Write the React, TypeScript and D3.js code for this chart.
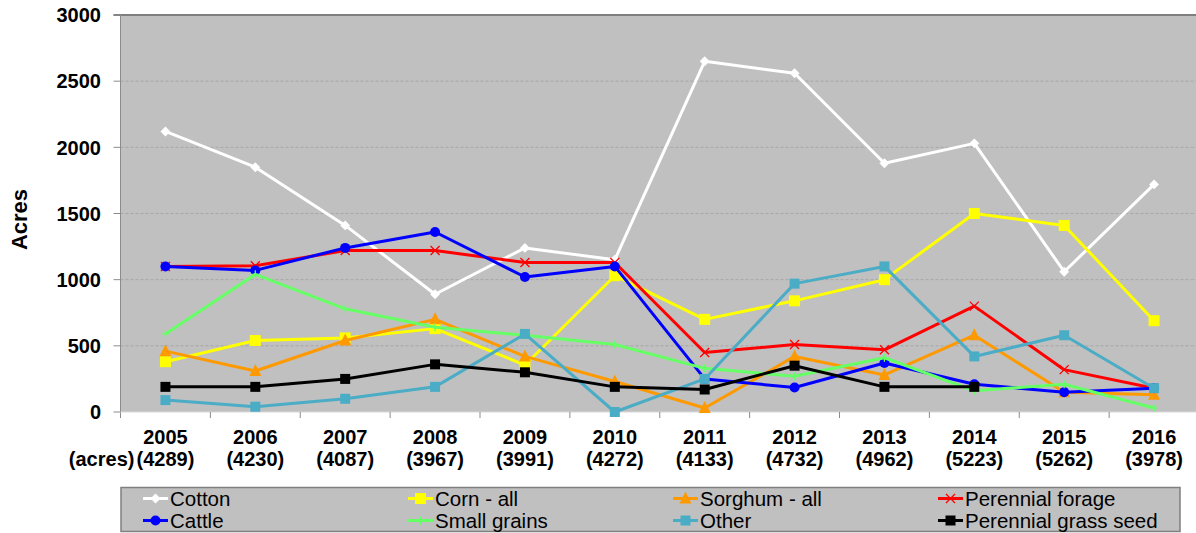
import React from "react";
import * as d3 from "d3";

// Years with total acreage shown under each year
const years = ["2005", "2006", "2007", "2008", "2009", "2010", "2011", "2012", "2013", "2014", "2015", "2016"];
const totals = ["4289", "4230", "4087", "3967", "3991", "4272", "4133", "4732", "4962", "5223", "5262", "3978"];
const yTicks = [0, 500, 1000, 1500, 2000, 2500, 3000];

// Acres per crop / use
const cotton = [2120, 1850, 1410, 890, 1240, 1150, 2650, 2560, 1880, 2030, 1060, 1720];
const corn = [380, 540, 560, 630, 355, 1030, 700, 840, 1000, 1500, 1410, 690];
const sorghum = [460, 310, 540, 700, 420, 230, 30, 420, 280, 580, 150, 130];
const perennialForage = [1100, 1105, 1220, 1220, 1130, 1130, 450, 510, 470, 800, 320, 180];
const cattle = [1100, 1070, 1240, 1360, 1020, 1100, 250, 185, 370, 210, 150, 180];
const smallGrains = [590, 1040, 780, 640, 580, 510, 330, 270, 410, 160, 210, 30];
const other = [90, 40, 100, 190, 590, 0, 250, 970, 1100, 420, 580, 180];
const grassSeed: (number | null)[] = [190, 190, 250, 360, 300, 190, 170, 350, 190, 190, null, null];

type Marker = "diamond" | "square" | "triangle" | "times" | "circle" | "plus";
interface Series {
  name: string;
  values: (number | null)[];
  color: string;
  marker: Marker;
  size: number;
}

const series: Series[] = [
  { name: "Cotton", values: cotton, color: "#ffffff", marker: "diamond", size: 7 },
  { name: "Corn - all", values: corn, color: "#ffff00", marker: "square", size: 11 },
  { name: "Sorghum - all", values: sorghum, color: "#ff9900", marker: "triangle", size: 12 },
  { name: "Perennial forage", values: perennialForage, color: "#ff0000", marker: "times", size: 9 },
  { name: "Cattle", values: cattle, color: "#0000ff", marker: "circle", size: 10 },
  { name: "Small grains", values: smallGrains, color: "#66ff66", marker: "plus", size: 8 },
  { name: "Other", values: other, color: "#4bacc6", marker: "square", size: 10 },
  { name: "Perennial grass seed", values: grassSeed, color: "#000000", marker: "square", size: 10 },
];

const W = 1196;
const H = 533;
const plot = { left: 120.5, right: 1199, top: 15, bottom: 412 };
const FONT = "'Liberation Sans', Arial, sans-serif";

function markerEl(s: Series, x: number, y: number, key: string) {
  const z = s.size;
  const h = z / 2;
  switch (s.marker) {
    case "diamond":
      return (
        <rect key={key} x={-h} y={-h} width={z} height={z} fill={s.color}
          transform={`translate(${x},${y}) rotate(45)`} />
      );
    case "square":
      return <rect key={key} x={x - h} y={y - h} width={z} height={z} fill={s.color} />;
    case "circle":
      return <circle key={key} cx={x} cy={y} r={h} fill={s.color} />;
    case "triangle": {
      const p = d3.path();
      p.moveTo(x, y - h - 1);
      p.lineTo(x + h, y + h - 1);
      p.lineTo(x - h, y + h - 1);
      p.closePath();
      return <path key={key} d={p.toString()} fill={s.color} />;
    }
    case "times":
      return (
        <path key={key} d={`M${x - h},${y - h}L${x + h},${y + h}M${x - h},${y + h}L${x + h},${y - h}`}
          stroke={s.color} strokeWidth={1.3} fill="none" />
      );
    case "plus":
      return (
        <path key={key} d={`M${x - h},${y}L${x + h},${y}M${x},${y - h}L${x},${y + h}`}
          stroke={s.color} strokeWidth={1.3} fill="none" />
      );
  }
}

export default function App() {
  const x = d3.scaleBand<string>().domain(years).range([plot.left, plot.right]).padding(0);
  const y = d3.scaleLinear().domain([0, 3000]).range([plot.bottom, plot.top]);
  const cx = (yr: string) => (x(yr) ?? 0) + x.bandwidth() / 2;

  const line = d3
    .line<number | null>()
    .defined((d) => d !== null)
    .x((_, i) => cx(years[i]))
    .y((d) => y(d as number));

  const legendCols = [143, 408, 673, 938];
  const legendRows = [498.5, 520.5];

  return (
    <svg width={W} height={H} style={{ position: "absolute", left: 0, top: 0, background: "#fff" }}
      fontFamily={FONT}>
      {/* plot background */}
      <rect x={plot.left} y={plot.top} width={plot.right - plot.left} height={plot.bottom - plot.top} fill="#c0c0c0" />

      {/* gridlines */}
      {yTicks.filter((t) => t > 0 && t < 3000).map((t) => (
        <line key={t} x1={plot.left} x2={plot.right} y1={y(t)} y2={y(t)}
          stroke="#a6a6a6" strokeWidth={1} strokeDasharray="3,2" />
      ))}
      <line x1={plot.left - 7} x2={plot.right} y1={y(3000)} y2={y(3000)} stroke="#7f7f7f" strokeWidth={2} />

      {/* y axis */}
      <line x1={plot.left} x2={plot.left} y1={plot.top} y2={plot.bottom + 6} stroke="#8c8c8c" strokeWidth={1} />
      {yTicks.map((t) => (
        <g key={t}>
          <line x1={plot.left - 7} x2={plot.left} y1={y(t)} y2={y(t)} stroke="#8c8c8c" />
          <text x={101} y={y(t)} dy="0.36em" textAnchor="end" fontSize={20} fontWeight="bold" fill="#000">
            {t}
          </text>
        </g>
      ))}
      <text transform={`translate(27,${(plot.top + plot.bottom) / 2 + 6}) rotate(-90)`} textAnchor="middle"
        fontSize={22} fontWeight="bold" fill="#000">
        Acres
      </text>

      {/* x axis */}
      <line x1={plot.left} x2={plot.right} y1={plot.bottom} y2={plot.bottom} stroke="#d9d9d9" strokeWidth={1} />
      {years.slice(1).map((yr) => (
        <line key={yr} x1={x(yr)} x2={x(yr)} y1={plot.bottom} y2={plot.bottom + 6} stroke="#8c8c8c" />
      ))}
      {years.map((yr, i) => (
        <g key={yr}>
          <text x={cx(yr)} y={444} textAnchor="middle" fontSize={20} fontWeight="bold" fill="#000">{yr}</text>
          <text x={cx(yr)} y={466} textAnchor="middle" fontSize={20} fontWeight="bold" fill="#000">({totals[i]})</text>
        </g>
      ))}
      <text x={cx(years[0]) - 31} y={466} textAnchor="end" fontSize={20} fontWeight="bold" fill="#000">(acres)</text>

      {/* series */}
      {series.map((s) => (
        <g key={s.name}>
          <path d={line(s.values) ?? ""} fill="none" stroke={s.color} strokeWidth={3} strokeLinejoin="round" />
          {s.values.map((v, i) => (v === null ? null : markerEl(s, cx(years[i]), y(v), `${s.name}-${i}`)))}
        </g>
      ))}

      {/* legend */}
      <rect x={121} y={487.5} width={1059} height={44} fill="#c0c0c0" stroke="#7f7f7f" strokeWidth={1.5} />
      {series.map((s, i) => {
        const lx = legendCols[i % 4];
        const ly = legendRows[Math.floor(i / 4)];
        return (
          <g key={s.name}>
            <line x1={lx} x2={lx + 25} y1={ly} y2={ly} stroke={s.color} strokeWidth={3} />
            {markerEl(s, lx + 12.5, ly, `leg-${i}`)}
            <text x={lx + 27} y={ly + 7.5} fontSize={20.5} fill="#000">{s.name}</text>
          </g>
        );
      })}
    </svg>
  );
}
